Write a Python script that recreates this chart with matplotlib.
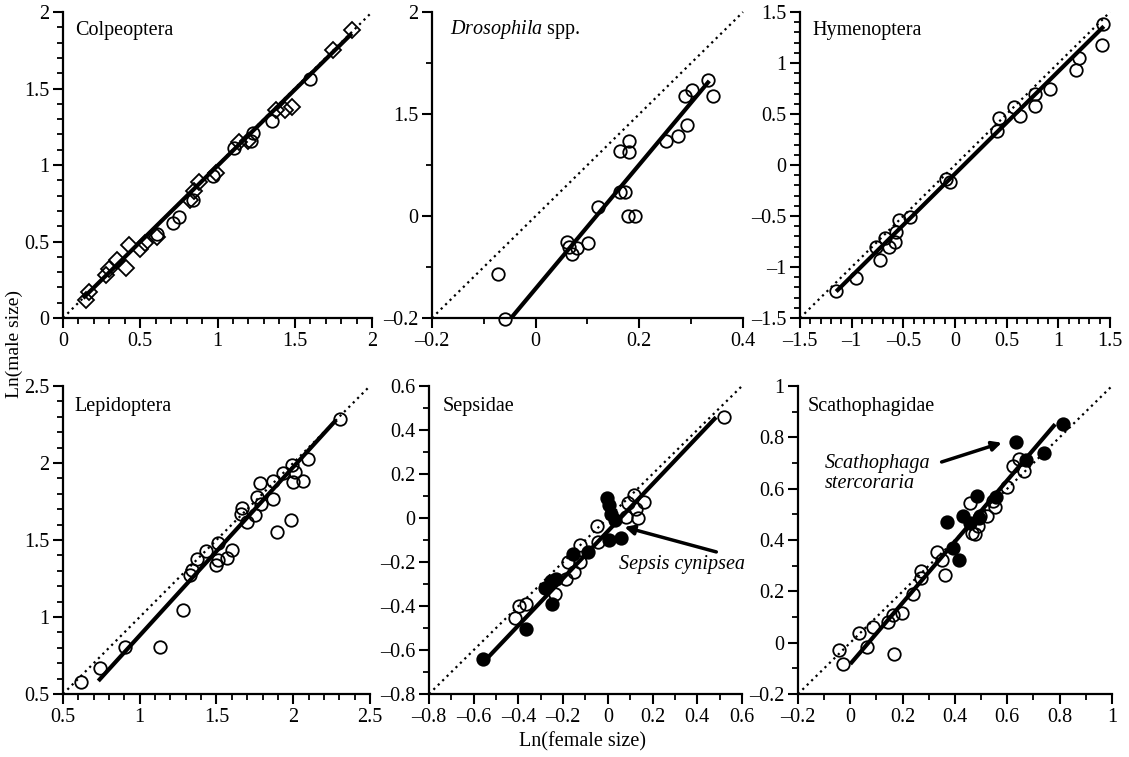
import matplotlib
matplotlib.use("Agg")
import matplotlib.pyplot as plt
import numpy as np
from matplotlib.ticker import MultipleLocator, FixedLocator, FixedFormatter, FuncFormatter

plt.rcParams['font.family'] = ['Liberation Serif', 'DejaVu Serif']
plt.rcParams['font.size'] = 14.5
plt.rcParams['mathtext.fontset'] = 'custom'
plt.rcParams['mathtext.rm'] = 'Liberation Serif'
plt.rcParams['mathtext.it'] = 'Liberation Serif:italic'

# ---- Colpeoptera (diamonds and circles) ----
colp_d_x = [0.15, 0.17, 0.28, 0.30, 0.35, 0.41, 0.43, 0.50, 0.53, 0.61, 0.82, 0.85, 0.88, 0.99,
            1.14, 1.20, 1.38, 1.44, 1.48, 1.75, 1.87]
colp_d_y = [0.12, 0.17, 0.28, 0.32, 0.38, 0.33, 0.48, 0.45, 0.49, 0.53, 0.77, 0.83, 0.89, 0.95,
            1.15, 1.16, 1.36, 1.36, 1.38, 1.75, 1.88]
colp_c_x = [0.61, 0.71, 0.75, 0.84, 0.97, 1.11, 1.22, 1.23, 1.35, 1.60]
colp_c_y = [0.55, 0.62, 0.66, 0.77, 0.93, 1.11, 1.16, 1.21, 1.29, 1.56]
colp_fit_x = [0.13, 1.87]
colp_fit_y = [0.13, 1.86]

# ---- Drosophila spp. ----
dros_x = [-0.072, -0.059, 0.061, 0.064, 0.071, 0.080, 0.101, 0.121, 0.162, 0.172, 0.162, 0.180,
          0.180, 0.178, 0.192, 0.252, 0.274, 0.292, 0.289, 0.302, 0.332, 0.342]
dros_y = [-0.113, -0.202, -0.050, -0.061, -0.075, -0.062, -0.052, 0.018, 0.048, 0.048, 0.127, 0.148,
          0.126, 0.0, 0.0, 0.148, 0.157, 0.178, 0.236, 0.248, 0.266, 0.236]
dros_fit_x = [-0.049, 0.335]
dros_fit_y = [-0.202, 0.265]
dros_ytick_labels = ['\u20130.2', '0', '1.5', '2']

# ---- Hymenoptera ----
hym_x = [-1.153, -0.958, -0.763, -0.73, -0.676, -0.64, -0.585, -0.569, -0.543, -0.44, -0.089, -0.05,
         0.404, 0.43, 0.566, 0.631, 0.777, 0.777, 0.923, 1.166, 1.199, 1.427, 1.436]
hym_y = [-1.240, -1.103, -0.80, -0.93, -0.713, -0.80, -0.752, -0.654, -0.54, -0.508, -0.133, -0.166,
         0.338, 0.459, 0.566, 0.485, 0.582, 0.696, 0.745, 0.931, 1.045, 1.175, 1.38]
hym_fit_x = [-1.15, 1.44]
hym_fit_y = [-1.24, 1.36]

# ---- Lepidoptera ----
lep_x = [0.619, 0.743, 0.901, 1.133, 1.285, 1.329, 1.339, 1.372, 1.433, 1.498, 1.507, 1.513, 1.567,
         1.600, 1.665, 1.658, 1.697, 1.752, 1.763, 1.785, 1.789, 1.867, 1.871, 1.893, 1.984, 1.932,
         1.990, 1.997, 2.012, 2.066, 2.099, 2.305]
lep_y = [0.580, 0.669, 0.804, 0.804, 1.047, 1.270, 1.307, 1.378, 1.428, 1.335, 1.372, 1.480, 1.383,
         1.437, 1.710, 1.671, 1.617, 1.660, 1.780, 1.867, 1.736, 1.769, 1.884, 1.552, 1.628, 1.932,
         1.986, 1.877, 1.943, 1.884, 2.023, 2.285]
lep_fit_x = [0.73, 2.28]
lep_fit_y = [0.585, 2.28]

# ---- Sepsidae (open = other species, filled = Sepsis cynipsea) ----
seps_open_x = [0.521, -0.417, -0.399, -0.365, -0.238, -0.186, -0.179, -0.153, -0.124, -0.126, -0.048,
               -0.045, 0.089, 0.119, 0.161, 0.126, 0.134, 0.082]
seps_open_y = [0.458, -0.455, -0.40, -0.392, -0.347, -0.278, -0.202, -0.244, -0.198, -0.122, -0.038,
               -0.11, 0.070, 0.104, 0.073, 0.043, 0.0, 0.005]
seps_fill_x = [-0.558, -0.368, -0.248, -0.283, -0.253, -0.231, -0.156, -0.089, -0.004, 0.004, 0.015,
               0.030, 0.007, 0.060]
seps_fill_y = [-0.641, -0.504, -0.392, -0.316, -0.285, -0.278, -0.163, -0.156, 0.092, 0.058, 0.020,
               -0.011, -0.102, -0.092]
seps_fit_x = [-0.543, 0.484]
seps_fit_y = [-0.641, 0.458]

# ---- Scathophagidae (open = other species, filled = Scathophaga stercoraria) ----
scat_open_x = [-0.043, -0.028, 0.033, 0.064, 0.087, 0.144, 0.163, 0.166, 0.199, 0.240, 0.272, 0.272,
               0.330, 0.349, 0.361, 0.457, 0.464, 0.476, 0.489, 0.495, 0.521, 0.553, 0.547, 0.598,
               0.623, 0.646, 0.662]
scat_open_y = [-0.030, -0.083, 0.038, -0.017, 0.062, 0.081, 0.108, -0.043, 0.117, 0.190, 0.281, 0.252,
               0.354, 0.324, 0.265, 0.543, 0.429, 0.422, 0.455, 0.494, 0.494, 0.530, 0.553, 0.606,
               0.687, 0.717, 0.669]
scat_fill_x = [0.368, 0.393, 0.416, 0.429, 0.457, 0.485, 0.493, 0.557, 0.633, 0.672, 0.741, 0.812]
scat_fill_y = [0.472, 0.370, 0.324, 0.494, 0.468, 0.573, 0.485, 0.569, 0.783, 0.711, 0.740, 0.851]
scat_fit_x = [0.0, 0.783]
scat_fit_y = [-0.083, 0.851]


def fmt(v, pos):
    s = '%g' % round(v, 3)
    return s.replace('-', '\u2013')


def setup(ax, lim, major, minor=0.1):
    ax.set_xlim(lim)
    ax.set_ylim(lim)
    for s in ['top', 'right']:
        ax.spines[s].set_visible(False)
    for s in ['left', 'bottom']:
        ax.spines[s].set_linewidth(1.6)
    ax.xaxis.set_major_locator(MultipleLocator(major))
    ax.yaxis.set_major_locator(MultipleLocator(major))
    ax.xaxis.set_major_formatter(FuncFormatter(fmt))
    ax.yaxis.set_major_formatter(FuncFormatter(fmt))
    ax.minorticks_on()
    ax.xaxis.set_minor_locator(MultipleLocator(minor))
    ax.yaxis.set_minor_locator(MultipleLocator(minor))
    ax.tick_params(which='major', direction='out', length=7, width=1.5, labelsize=14.5, pad=3)
    ax.tick_params(which='minor', direction='out', length=4, width=1.3)
    ax.plot(lim, lim, linestyle=(0, (1, 1.8)), color='black', lw=1.6, zorder=1, clip_on=False)


def fit(ax, xs, ys):
    ax.plot(xs, ys, color='black', lw=3, zorder=2, solid_capstyle='butt')


def circles(ax, xs, ys, filled=False):
    ax.plot(xs, ys, 'o', ms=9, mew=1.3, mec='black', mfc='black' if filled else 'none', zorder=3,
            clip_on=False)


fig = plt.figure(figsize=(11.29, 7.57), dpi=100)
top_b, top_h = 0.5799, 0.4042
bot_b, bot_h = 0.0832, 0.4069

ax1 = fig.add_axes([0.0558, top_b, 0.2737, top_h])
ax2 = fig.add_axes([0.3826, top_b, 0.2755, top_h])
ax3 = fig.add_axes([0.7086, top_b, 0.2746, top_h])
ax4 = fig.add_axes([0.0558, bot_b, 0.2719, bot_h])
ax5 = fig.add_axes([0.3800, bot_b, 0.2772, bot_h])
ax6 = fig.add_axes([0.7068, bot_b, 0.2781, bot_h])

# Colpeoptera
setup(ax1, (0, 2), 0.5)
fit(ax1, colp_fit_x, colp_fit_y)
ax1.plot(colp_d_x, colp_d_y, 'D', ms=8, mew=1.3, mec='black', mfc='none', zorder=3)
circles(ax1, colp_c_x, colp_c_y)
ax1.text(0.039, 0.94, 'Colpeoptera', transform=ax1.transAxes, va='center')

# Drosophila
setup(ax2, (-0.2, 0.4), 0.2)
ax2.yaxis.set_major_locator(FixedLocator([-0.2, 0.0, 0.2, 0.4]))
ax2.yaxis.set_major_formatter(FixedFormatter(dros_ytick_labels))
fit(ax2, dros_fit_x, dros_fit_y)
circles(ax2, dros_x, dros_y)
ax2.text(0.058, 0.944, r'$\mathit{Drosophila}$ spp.', transform=ax2.transAxes, va='center')

# Hymenoptera
setup(ax3, (-1.5, 1.5), 0.5)
fit(ax3, hym_fit_x, hym_fit_y)
circles(ax3, hym_x, hym_y)
ax3.text(0.039, 0.94, 'Hymenoptera', transform=ax3.transAxes, va='center')

# Lepidoptera
setup(ax4, (0.5, 2.5), 0.5)
fit(ax4, lep_fit_x, lep_fit_y)
circles(ax4, lep_x, lep_y)
ax4.text(0.036, 0.935, 'Lepidoptera', transform=ax4.transAxes, va='center')

# Sepsidae
setup(ax5, (-0.8, 0.6), 0.2)
fit(ax5, seps_fit_x, seps_fit_y)
circles(ax5, seps_open_x, seps_open_y)
circles(ax5, seps_fill_x, seps_fill_y, filled=True)
ax5.text(0.042, 0.935, 'Sepsidae', transform=ax5.transAxes, va='center')
ax5.annotate('Sepsis cynipsea', xy=(0.074, -0.041), xytext=(0.052, -0.21), style='italic',
             va='center',
             arrowprops=dict(arrowstyle='-|>', color='black', lw=2.5, mutation_scale=14,
                             shrinkA=0, shrinkB=0, relpos=(0.85, 1.0)))

# Scathophagidae
setup(ax6, (-0.2, 1.0), 0.2)
fit(ax6, scat_fit_x, scat_fit_y)
circles(ax6, scat_open_x, scat_open_y)
circles(ax6, scat_fill_x, scat_fill_y, filled=True)
ax6.text(0.032, 0.935, 'Scathophagidae', transform=ax6.transAxes, va='center')
ax6.text(-0.098, 0.66, 'Scathophaga\nstercoraria', style='italic', va='center', linespacing=1.1)
ax6.annotate('', xy=(0.579, 0.779), xytext=(0.349, 0.704),
             arrowprops=dict(arrowstyle='-|>', color='black', lw=2.5, mutation_scale=14,
                             shrinkA=0, shrinkB=0))

fig.text(0.0125, 0.545, 'Ln(male size)', rotation=90, va='center', ha='center', fontsize=14)
fig.text(0.516, 0.02, 'Ln(female size)', va='center', ha='center')

fig.savefig('out.png', dpi=100)
